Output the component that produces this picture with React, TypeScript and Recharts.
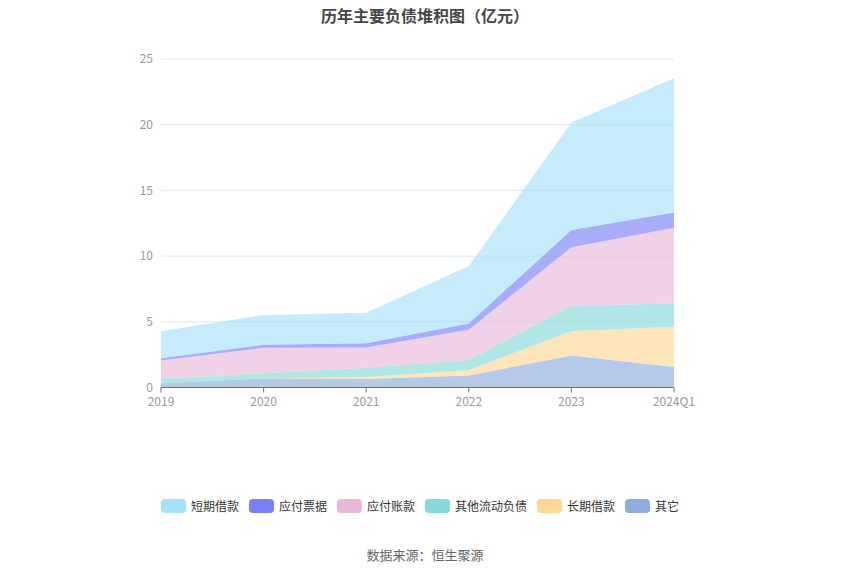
import React from 'react';
import { AreaChart, Area, XAxis, YAxis, CartesianGrid } from 'recharts';

const years = ['2019', '2020', '2021', '2022', '2023', '2024Q1'];
const shortLoans = [2.05, 2.25, 2.33, 4.36, 8.17, 10.23];
const notesPayable = [0.18, 0.23, 0.31, 0.48, 1.31, 1.16];
const accountsPayable = [1.36, 1.95, 1.54, 2.3, 4.45, 5.76];
const otherCurrent = [0.36, 0.39, 0.72, 0.77, 1.93, 1.77];
const longLoans = [0, 0, 0.15, 0.41, 1.86, 3.06];
const others = [0.33, 0.69, 0.64, 0.92, 2.44, 1.56];
const yTicks = [0, 5, 10, 15, 20, 25];

// bottom to top
const series = [
  { key: 'others', name: '其它', values: others, color: '#8daedd' },
  { key: 'longLoans', name: '长期借款', values: longLoans, color: '#fed796' },
  { key: 'otherCurrent', name: '其他流动负债', values: otherCurrent, color: '#86d8d8' },
  { key: 'accountsPayable', name: '应付账款', values: accountsPayable, color: '#e8b8da' },
  { key: 'notesPayable', name: '应付票据', values: notesPayable, color: '#7b7ff6' },
  { key: 'shortLoans', name: '短期借款', values: shortLoans, color: '#a6e0fb' },
];

const data = years.map((year, i) => {
  const row: Record<string, string | number> = { year };
  series.forEach((s) => {
    row[s.key] = s.values[i];
  });
  return row;
});

const font = '"Noto Sans CJK SC", "Noto Sans", sans-serif';

export default function App() {
  const legendItems = [...series].reverse();
  return (
    <div style={{ position: 'absolute', left: 0, top: 0, width: 850, height: 575, background: '#fff', fontFamily: font }}>
      <div
        style={{
          position: 'absolute',
          top: 3,
          width: 850,
          textAlign: 'center',
          fontSize: 16,
          fontWeight: 'bold',
          color: '#464646',
        }}
      >
        历年主要负债堆积图（亿元）
      </div>
      <AreaChart
        width={850}
        height={575}
        data={data}
        margin={{ top: 59, right: 176, left: 121, bottom: 157.5 }}
      >
        <CartesianGrid vertical={false} stroke="#e0e6f1" />
        <XAxis
          dataKey="year"
          tick={{ fill: '#999', fontSize: 12, fontFamily: font }}
          axisLine={{ stroke: '#6e7079' }}
          tickLine={{ stroke: '#6e7079' }}
          tickSize={5}
          tickMargin={5}
          height={30}
          interval={0}
        />
        <YAxis
          domain={[0, 25]}
          ticks={yTicks}
          width={40}
          axisLine={false}
          tickLine={false}
          tick={{ fill: '#999', fontSize: 12, fontFamily: font }}
        />
        {series.map((s) => (
          <Area
            key={s.key}
            type="linear"
            dataKey={s.key}
            name={s.name}
            stackId="1"
            stroke="none"
            fill={s.color}
            fillOpacity={0.65}
            isAnimationActive={false}
            dot={false}
            activeDot={false}
          />
        ))}
      </AreaChart>
      <div
        style={{
          position: 'absolute',
          top: 497,
          width: 850,
          display: 'flex',
          justifyContent: 'center',
          fontSize: 12,
          color: '#333',
        }}
      >
        {legendItems.map((s) => (
          <div key={s.key} style={{ display: 'flex', alignItems: 'center', marginRight: 10 }}>
            <span
              style={{
                display: 'inline-block',
                width: 25,
                height: 14,
                borderRadius: 4,
                background: s.color,
                marginRight: 5,
              }}
            />
            <span>{s.name}</span>
          </div>
        ))}
      </div>
      <div
        style={{
          position: 'absolute',
          top: 545,
          width: 850,
          textAlign: 'center',
          fontSize: 13,
          color: '#666',
        }}
      >
        数据来源：恒生聚源
      </div>
    </div>
  );
}
